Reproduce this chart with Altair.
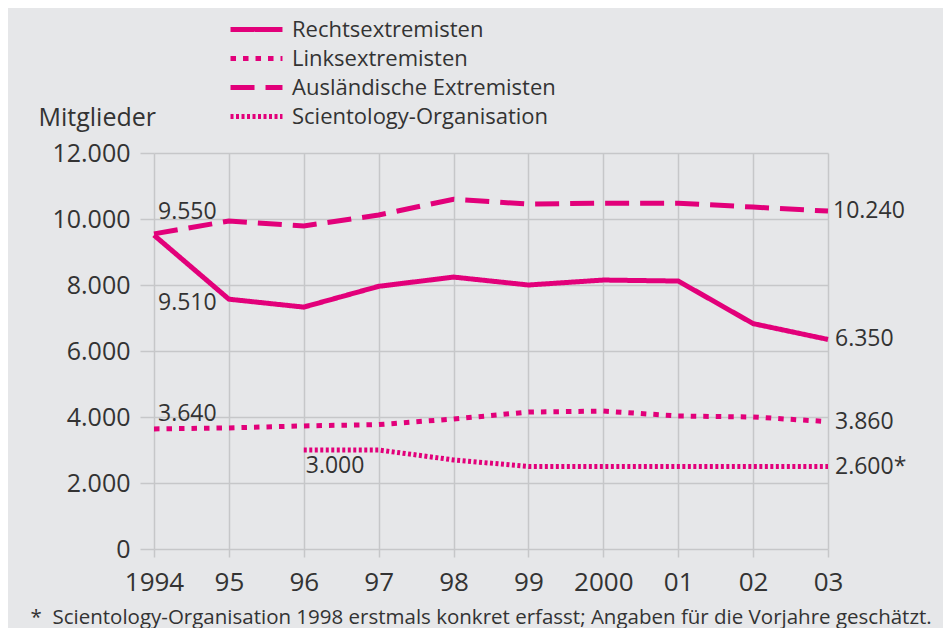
import altair as alt
import pandas as pd

years = [1994, 1995, 1996, 1997, 1998, 1999, 2000, 2001, 2002, 2003]
series = ["Rechtsextremisten", "Linksextremisten", "Ausländische Extremisten", "Scientology-Organisation"]
rechts = [9510, 7570, 7330, 7960, 8240, 8000, 8150, 8120, 6830, 6350]
links = [3640, 3670, 3730, 3770, 3940, 4150, 4180, 4030, 4000, 3860]
auslaender = [9550, 9940, 9790, 10120, 10600, 10450, 10480, 10480, 10360, 10240]
scientology = [None, None, 3000, 3000, 2700, 2500, 2500, 2500, 2500, 2500]

label_series = ["Ausländische Extremisten", "Rechtsextremisten", "Linksextremisten", "Scientology-Organisation",
                "Ausländische Extremisten", "Rechtsextremisten", "Linksextremisten", "Scientology-Organisation"]
label_years = [1994, 1994, 1994, 1996, 2003, 2003, 2003, 2003]
label_values = [9550, 9510, 3640, 3000, 10240, 6350, 3860, 2500]
label_texts = ["9.550", "9.510", "3.640", "3.000", "10.240", "6.350", "3.860", "2.600*"]
label_dx = [4, 4, 4, 2, 5, 7, 7, 7]
label_dy = [-22, 68, -15, 16, 0, 0, 0, 0]

footnote = "*\u00a0\u00a0Scientology-Organisation 1998 erstmals konkret erfasst; Angaben für die Vorjahre geschätzt."

MAGENTA = "#e2007a"
TEXT = "#333333"
GRID = "#c6c7c9"
BG = "#e6e7e9"
FONT = "Open Sans"

rows = []
for name, vals in zip(series, [rechts, links, auslaender, scientology]):
    for y, v in zip(years, vals):
        if v is not None:
            rows.append({"Jahr": y, "Wert": v, "Serie": name})
df = pd.DataFrame(rows)

lab = pd.DataFrame({"Jahr": label_years, "Wert": label_values, "Text": label_texts,
                    "dx": label_dx, "dy": label_dy, "Serie": label_series})

x_scale = alt.Scale(domain=[1994, 2003], nice=False, zero=False)
y_scale = alt.Scale(domain=[0, 12000], nice=False)

x_axis = alt.Axis(
    values=years,
    labelExpr="datum.value == 1994 ? '1994' : datum.value == 2000 ? '2000' : slice(toString(datum.value), 2)",
    labelFont=FONT, labelFontSize=26, labelColor=TEXT, labelPadding=12, labelFlush=False, labelOverlap=False,
    grid=True, gridColor=GRID, gridWidth=1.5, domain=False,
    ticks=True, tickColor=GRID, tickWidth=1.5, tickSize=8,
    title=footnote,
    titleFont=FONT, titleFontSize=20.5, titleFontWeight="normal", titleColor=TEXT,
    titleAnchor="start", titleAlign="left", titleX=-124, titleY=74, titleBaseline="alphabetic",
)
y_axis = alt.Axis(
    values=[0, 2000, 4000, 6000, 8000, 10000, 12000],
    labelExpr="replace(format(datum.value, ',d'), ',', '.')",
    labelFont=FONT, labelFontSize=25, labelColor=TEXT, labelPadding=10,
    grid=True, gridColor=GRID, gridWidth=1.5, domain=False,
    ticks=True, tickColor=GRID, tickWidth=1.5, tickSize=14,
    title="Mitglieder", titleFont=FONT, titleFontSize=25, titleFontWeight="normal", titleColor=TEXT,
    titleAngle=0, titleAlign="left", titleBaseline="alphabetic", titleX=-116, titleY=-28,
)

dash_scale = alt.Scale(domain=series, range=[[1, 0], [5.5, 7], [24, 11], [3, 2.5]])

lines = alt.Chart(df).mark_line(color=MAGENTA, strokeWidth=5, strokeCap="butt", strokeJoin="miter").encode(
    x=alt.X("Jahr:Q", scale=x_scale, axis=x_axis),
    y=alt.Y("Wert:Q", scale=y_scale, axis=y_axis),
    strokeDash=alt.StrokeDash(
        "Serie:N", scale=dash_scale, sort=series,
        legend=alt.Legend(
            orient="none", legendX=91, legendY=-135, title=None,
            symbolType="M-3,0H3", symbolSize=300, symbolStrokeWidth=5, symbolStrokeColor=MAGENTA,
            labelFont=FONT, labelFontSize=22, labelColor=TEXT, labelOffset=24, rowPadding=6,
            labelLimit=0,
        ),
    ),
    detail="Serie:N",
)

label_layers = []
for i in range(len(label_texts)):
    label_layers.append(
        alt.Chart(lab.iloc[[i]]).mark_text(
            font=FONT, fontSize=23, color=TEXT, align="left", baseline="middle",
            dx=int(label_dx[i]), dy=int(label_dy[i]),
        ).encode(
            x=alt.X("Jahr:Q", scale=x_scale),
            y=alt.Y("Wert:Q", scale=y_scale),
            text="Text:N",
        )
    )

chart = alt.layer(lines, *label_layers).properties(
    width=674, height=396,
    autosize=alt.AutoSizeParams(type="none"),
    padding={"left": 146, "top": 145, "right": 115, "bottom": 79},
    background=BG,
).configure_view(stroke=None)

chart.save("out.html", embed_options={"renderer": "svg", "actions": False})
